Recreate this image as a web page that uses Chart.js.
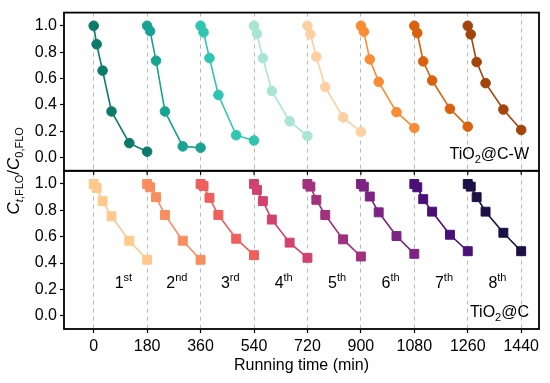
<!DOCTYPE html>
<html>
<head>
<meta charset="utf-8">
<script src="https://cdn.jsdelivr.net/npm/chart.js@4"></script>
<style>
  html, body { margin: 0; padding: 0; background: #fff; }
  #wrap { width: 550px; height: 383px; }
</style>
</head>
<body>
<div id="wrap"><canvas id="myChart" width="550" height="383"></canvas></div>
<script>
// minutes into each cycle, and cycle start times
let relTimes = [0, 10, 30, 60, 120, 180];
let cycleStarts = [0, 180, 360, 540, 720, 900, 1080, 1260];
let xTicks = [0, 180, 360, 540, 720, 900, 1080, 1260, 1440];
let yTicks = [0, 0.2, 0.4, 0.6, 0.8, 1.0];
let ordinals = [['1', 'st'], ['2', 'nd'], ['3', 'rd'], ['4', 'th'], ['5', 'th'], ['6', 'th'], ['7', 'th'], ['8', 'th']];

// TiO2@C-W (top panel), Ct/C0 for each cycle
let valuesW = [
    [1.0, 0.86, 0.66, 0.35, 0.11, 0.045],
    [1.0, 0.96, 0.735, 0.35, 0.085, 0.075],
    [1.0, 0.95, 0.755, 0.475, 0.17, 0.13],
    [1.0, 0.94, 0.755, 0.505, 0.275, 0.165],
    [1.0, 0.935, 0.765, 0.535, 0.305, 0.195],
    [1.0, 0.955, 0.745, 0.575, 0.345, 0.225],
    [1.0, 0.945, 0.73, 0.585, 0.37, 0.235],
    [1.0, 0.935, 0.725, 0.565, 0.365, 0.21]
];
// TiO2@C (bottom panel)
let valuesC = [
    [1.0, 0.97, 0.87, 0.755, 0.57, 0.425],
    [1.0, 0.975, 0.9, 0.765, 0.57, 0.425],
    [1.0, 0.985, 0.895, 0.765, 0.585, 0.46],
    [1.0, 0.955, 0.87, 0.73, 0.555, 0.44],
    [1.0, 0.98, 0.88, 0.765, 0.58, 0.45],
    [1.0, 0.98, 0.905, 0.785, 0.605, 0.47],
    [1.0, 0.975, 0.885, 0.79, 0.615, 0.49],
    [1.0, 0.98, 0.9, 0.79, 0.63, 0.49]
];

let colorsW = ['#0b7a6b', '#19a392', '#2ec5b1', '#a9e5d4', '#fdd0a2', '#f98c34', '#d8620e', '#a3440a'];
let colorsC = ['#fec98d', '#fa8d60', '#ef5f5c', '#d2426e', '#a2307f', '#7b2484', '#4a1078', '#1c1044'];

const FONT = '"Liberation Sans", Arial, sans-serif';

function makeSets(values, colors, axis, style) {
    return values.map((vals, i) => ({
        data: vals.map((v, j) => ({ x: cycleStarts[i] + relTimes[j], y: v })),
        yAxisID: axis,
        borderColor: colors[i],
        backgroundColor: colors[i],
        pointBackgroundColor: colors[i],
        pointBorderColor: colors[i],
        borderWidth: 1.6,
        pointStyle: style,
        pointRadius: style === 'rect' ? 6.3 : 4.8,
        pointBorderWidth: 1,
        pointHoverRadius: 6,
        tension: 0
    }));
}

function drawSubText(ctx, x, y, parts) {
    // parts: [text, font, dy]
    let cx = x;
    parts.forEach(p => {
        ctx.font = p[1];
        ctx.fillText(p[0], cx, y + p[2]);
        cx += ctx.measureText(p[0]).width;
    });
    return cx;
}

function measureParts(ctx, parts) {
    let w = 0;
    parts.forEach(p => { ctx.font = p[1]; w += ctx.measureText(p[0]).width; });
    return w;
}

const decor = {
    id: 'decor',
    afterDraw(chart) {
        let ctx = chart.ctx;
        let area = chart.chartArea;
        let xs = chart.scales.x;
        let yW = chart.scales.yW;
        let yC = chart.scales.yC;
        ctx.save();
        // panel frames
        ctx.strokeStyle = '#000';
        ctx.lineWidth = 1.8;
        [yW, yC].forEach(s => ctx.strokeRect(area.left, s.top, area.right - area.left, s.bottom - s.top));
        // outward ticks of top panel
        ctx.lineWidth = 1.2;
        xTicks.forEach(t => {
            let px = xs.getPixelForValue(t);
            ctx.beginPath();
            ctx.moveTo(px, yW.bottom);
            ctx.lineTo(px, yW.bottom + 4);
            ctx.stroke();
        });
        ctx.fillStyle = '#000';
        ctx.textBaseline = 'alphabetic';
        // sample labels
        let big = '16px ' + FONT, small = '11px ' + FONT;
        let labW = [['TiO', big, 0], ['2', small, 4], ['@C-W', big, 0]];
        let labC = [['TiO', big, 0], ['2', small, 4], ['@C', big, 0]];
        drawSubText(ctx, area.right - 10 - measureParts(ctx, labW), yW.getPixelForValue(0) + 1, labW);
        drawSubText(ctx, area.right - 10 - measureParts(ctx, labC), yC.getPixelForValue(0) + 1, labC);
        // cycle ordinals
        ordinals.forEach((o, i) => {
            let parts = [[o[0], '16px ' + FONT, 0], [o[1], '11px ' + FONT, -7]];
            let cx = xs.getPixelForValue(cycleStarts[i] + 100);
            drawSubText(ctx, cx - measureParts(ctx, parts) / 2, yC.getPixelForValue(0.21), parts);
        });
        // y axis title, rotated
        let bigI = 'italic 17px ' + FONT, subI = 'italic 11px ' + FONT, sub = '11px ' + FONT, bigN = '17px ' + FONT;
        let title = [['C', bigI, 0], ['t', subI, 4], [',FLO', sub, 4], ['/', bigN, 0], ['C', bigI, 0], ['0,FLO', sub, 4]];
        let tw = measureParts(ctx, title);
        ctx.translate(19, (yW.top + yC.bottom) / 2);
        ctx.rotate(-Math.PI / 2);
        drawSubText(ctx, -tw / 2, 0, title);
        ctx.restore();
    }
};

function yAxis(weight) {
    return {
        type: 'linear',
        position: 'left',
        stack: 'panels',
        stackWeight: 1,
        weight: weight,
        min: -0.1,
        max: 1.1,
        afterBuildTicks: s => { s.ticks = yTicks.map(v => ({ value: v })); },
        afterFit: s => { s.width = 64; },
        grid: { drawOnChartArea: false, tickLength: 4, tickColor: '#000', tickWidth: 1.2 },
        border: { display: false },
        ticks: { color: '#000', padding: 3, autoSkip: false, font: { family: FONT, size: 16 }, callback: v => v.toFixed(1) }
    };
}

let ctx = document.getElementById('myChart').getContext('2d');
let myChart = new Chart(ctx, {
    type: 'line',
    data: {
        datasets: makeSets(valuesC, colorsC, 'yC', 'rect').concat(makeSets(valuesW, colorsW, 'yW', 'circle'))
    },
    options: {
        responsive: false,
        animation: false,
        layout: { padding: { top: 10, right: 11, left: 0, bottom: 0 } },
        plugins: { legend: { display: false }, tooltip: { enabled: false } },
        scales: {
            x: {
                type: 'linear',
                min: -100,
                max: 1500,
                afterBuildTicks: s => { s.ticks = xTicks.map(v => ({ value: v })); },
                afterFit: s => { s.height = 54; },
                grid: { color: '#b8b8b8', lineWidth: 1, tickLength: 4, tickColor: '#000', tickWidth: 1.2, tickBorderDash: [] },
                border: { display: false, dash: [4, 4] },
                ticks: { color: '#000', padding: 4, maxRotation: 0, autoSkip: false, font: { family: FONT, size: 16 }, callback: v => String(v) },
                title: { display: true, text: 'Running time (min)', color: '#000', padding: { top: 0, bottom: 8 }, font: { family: FONT, size: 16 } }
            },
            yC: yAxis(1),
            yW: yAxis(2)
        }
    },
    plugins: [decor]
});
</script>
</body>
</html>
